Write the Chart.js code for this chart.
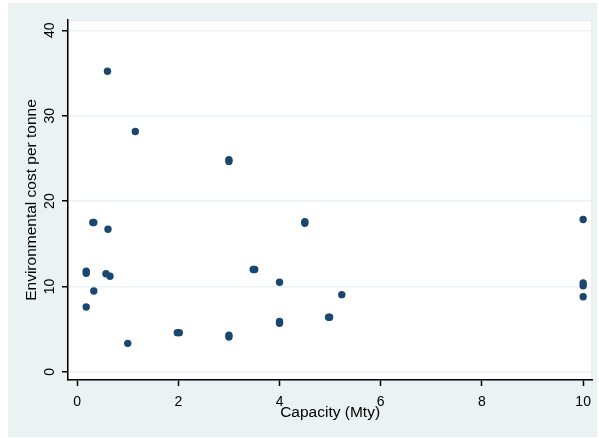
<!DOCTYPE html>
<html>
<head>
<meta charset="utf-8">
<script src="https://cdn.jsdelivr.net/npm/chart.js@4.4.0/dist/chart.umd.min.js"></script>
<style>
  html, body { margin: 0; padding: 0; background: #fff; }
  #wrap { position: absolute; left: 0; top: 0; width: 599px; height: 438px; }
</style>
</head>
<body>
<div id="wrap"><canvas id="chart" width="599" height="438"></canvas></div>
<script>
// data (some points overlap, hence near-duplicates)
const capacity = [0.6, 1.15, 3.0, 3.0, 0.31, 0.33, 0.61, 0.18, 0.18, 0.57, 0.65, 0.33, 0.18,
                  1.0, 1.98, 2.02, 3.0, 3.0, 3.48, 3.51, 4.0, 4.0, 4.0, 4.5, 4.5, 4.97, 4.99, 5.23,
                  10, 10, 10, 10];
const cost = [35.2, 28.15, 24.85, 24.65, 17.5, 17.5, 16.7, 11.8, 11.55, 11.5, 11.2, 9.47, 7.6,
              3.35, 4.6, 4.6, 4.3, 4.1, 12.0, 12.0, 10.5, 5.9, 5.7, 17.6, 17.4, 6.4, 6.4, 9.05,
              17.85, 10.42, 10.08, 8.8];
const yTicks = [0, 10, 20, 30, 40];
const xTicks = [0, 2, 4, 6, 8, 10];

const navy = '#1a476f';
const bgBlue = '#eaf2f3';
const font = "'Liberation Sans', Arial, sans-serif";

let points = capacity.map((c, i) => ({x: c, y: cost[i]}));

const bgPlugin = {
    id: 'stataBg',
    beforeDraw(chart) {
        let ctx = chart.ctx, a = chart.chartArea;
        ctx.save();
        ctx.fillStyle = '#fff';
        ctx.fillRect(0, 0, chart.width, chart.height);
        ctx.fillStyle = bgBlue;
        ctx.fillRect(8, 3, 589, 434);
        ctx.fillStyle = '#fff';
        ctx.fillRect(a.left, a.top, a.right - a.left, a.bottom - a.top);
        ctx.strokeStyle = '#e2ebee';
        ctx.lineWidth = 1;
        ctx.strokeRect(a.left + 0.5, a.top + 0.5, a.right - a.left - 1, a.bottom - a.top);
        ctx.restore();
    },
    afterDraw(chart) {
        // y tick labels are rotated in the original
        let ctx = chart.ctx, ys = chart.scales.y;
        ctx.save();
        ctx.fillStyle = '#000';
        ctx.font = '14px ' + font;
        ctx.textAlign = 'center';
        ctx.textBaseline = 'middle';
        for (let v of yTicks) {
            ctx.save();
            ctx.translate(50, ys.getPixelForValue(v));
            ctx.rotate(-Math.PI / 2);
            ctx.fillText(String(v), 0, 0);
            ctx.restore();
        }
        ctx.restore();
    }
};

new Chart(document.getElementById('chart').getContext('2d'), {
    type: 'scatter',
    data: {
        datasets: [{
            data: points,
            backgroundColor: navy,
            borderWidth: 0,
            pointRadius: 3.7,
            pointHoverRadius: 3.7
        }]
    },
    options: {
        responsive: false,
        animation: false,
        events: [],
        layout: { padding: { left: 8, top: 20, right: 3, bottom: 1 } },
        plugins: { legend: { display: false }, tooltip: { enabled: false } },
        scales: {
            x: {
                type: 'linear',
                min: -0.18,
                max: 10.18,
                afterBuildTicks: s => { s.ticks = xTicks.map(v => ({value: v})); },
                afterFit: s => { s.height = 57; },
                grid: { drawOnChartArea: false, tickColor: '#000', tickLength: 6, tickWidth: 1.5 },
                border: { color: '#000', width: 1.5 },
                ticks: { color: '#000', font: { family: font, size: 14 }, padding: 8, maxRotation: 0 },
                title: {
                    display: true,
                    text: 'Capacity (Mty)',
                    color: '#000',
                    font: { family: font, size: 15.5 },
                    padding: { top: 0, bottom: 14.5 }
                }
            },
            y: {
                type: 'linear',
                min: -0.94,
                max: 41.2,
                afterBuildTicks: s => { s.ticks = yTicks.map(v => ({value: v})); },
                afterFit: s => { s.width = 60; },
                grid: { color: bgBlue, lineWidth: 1.5, tickColor: '#000', tickLength: 6, tickWidth: 1.5 },
                border: { color: '#000', width: 1.5 },
                ticks: { display: false },
                title: {
                    display: true,
                    text: 'Environmental cost per tonne',
                    color: '#000',
                    font: { family: font, size: 15.5 },
                    padding: { top: 14.5, bottom: 0 }
                }
            }
        }
    },
    plugins: [bgPlugin]
});
</script>
</body>
</html>
